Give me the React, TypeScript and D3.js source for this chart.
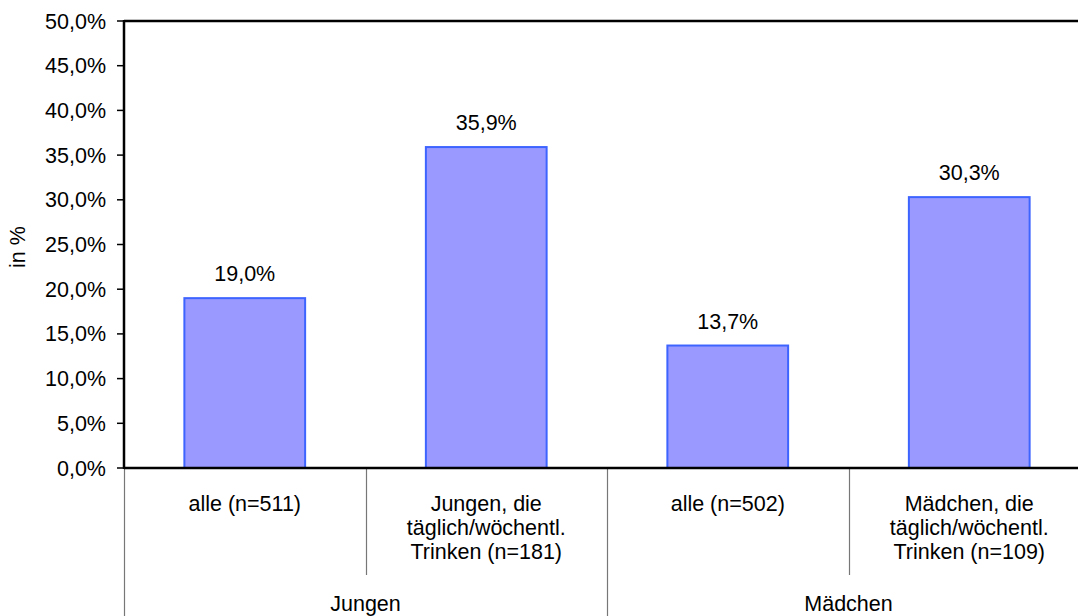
import React from "react";
import * as d3 from "d3";

const categories: string[][] = [
  ["alle (n=511)"],
  ["Jungen, die", "täglich/wöchentl.", "Trinken (n=181)"],
  ["alle (n=502)"],
  ["Mädchen, die", "täglich/wöchentl.", "Trinken (n=109)"],
];
const groups = ["Jungen", "Mädchen"];
const groupSizes = [2, 2];
const values = [19.0, 35.9, 13.7, 30.3];
const yTicks = [0, 5, 10, 15, 20, 25, 30, 35, 40, 45, 50];

const W = 1078;
const H = 616;
const left = 124;
const right = 1090;
const top = 21;
const bottom = 468;
const font = "Liberation Sans, Arial, sans-serif";
const FS = 21.5;

const fmt = (v: number) => v.toFixed(1).replace(".", ",") + "%";

export default function App() {
  const x = d3
    .scaleBand<number>()
    .domain(values.map((_, i) => i))
    .range([left, right])
    .paddingInner(0.5)
    .paddingOuter(0.25);
  const step = x.step();
  const y = d3.scaleLinear().domain([0, 50]).range([bottom, top]);

  let acc = 0;
  const groupBounds = groupSizes.map((n) => {
    const start = left + acc * step;
    acc += n;
    return { start, end: left + acc * step };
  });

  return (
    <svg
      width={W}
      height={H}
      style={{ position: "absolute", left: 0, top: 0, display: "block" }}
      fontFamily={font}
    >
      <rect x={0} y={0} width={W} height={H} fill="#fff" />
      {/* separators below axis */}
      {values.map((_, i) => {
        const xs = left + i * step;
        const isGroup = groupBounds.some((g) => Math.abs(g.start - xs) < 0.5);
        return (
          <line
            key={"sep" + i}
            x1={Math.round(xs) + 0.5}
            x2={Math.round(xs) + 0.5}
            y1={bottom}
            y2={isGroup ? H : 575}
            stroke="#777"
            strokeWidth={1.2}
          />
        );
      })}
      {/* bars */}
      {values.map((v, i) => (
        <rect
          key={"bar" + i}
          x={x(i)!}
          y={y(v)}
          width={x.bandwidth()}
          height={bottom - y(v)}
          fill="#9999FF"
          stroke="#3E64FF"
          strokeWidth={2}
        />
      ))}
      {/* value labels */}
      {values.map((v, i) => (
        <text
          key={"val" + i}
          x={x(i)! + x.bandwidth() / 2}
          y={y(v) - 17}
          textAnchor="middle"
          fontSize={FS}
          fill="#000"
        >
          {fmt(v)}
        </text>
      ))}
      {/* y ticks */}
      {yTicks.map((t) => (
        <g key={"t" + t}>
          <line x1={117} x2={left} y1={y(t)} y2={y(t)} stroke="#000" strokeWidth={1.5} />
          <text x={106} y={y(t) + 7.5} textAnchor="end" fontSize={FS} fill="#000">
            {fmt(t)}
          </text>
        </g>
      ))}
      {/* frame */}
      <line x1={left} x2={W} y1={top} y2={top} stroke="#000" strokeWidth={2.5} />
      <line x1={left} x2={W} y1={bottom} y2={bottom} stroke="#000" strokeWidth={2.5} />
      <line x1={left} x2={left} y1={top - 1} y2={bottom + 1} stroke="#000" strokeWidth={2.5} />
      {/* category labels */}
      {categories.map((lines, i) => (
        <text
          key={"cat" + i}
          x={left + (i + 0.5) * step}
          textAnchor="middle"
          fontSize={FS}
          fill="#000"
        >
          {lines.map((l, j) => (
            <tspan key={j} x={left + (i + 0.5) * step} y={511 + j * 24}>
              {l}
            </tspan>
          ))}
        </text>
      ))}
      {/* group labels */}
      {groups.map((g, i) => (
        <text
          key={"g" + i}
          x={(groupBounds[i].start + groupBounds[i].end) / 2}
          y={611}
          textAnchor="middle"
          fontSize={FS}
          fill="#000"
        >
          {g}
        </text>
      ))}
      {/* y axis title */}
      <text
        transform={`translate(25,247) rotate(-90)`}
        textAnchor="middle"
        fontSize={FS}
        fill="#000"
      >
        in %
      </text>
    </svg>
  );
}
